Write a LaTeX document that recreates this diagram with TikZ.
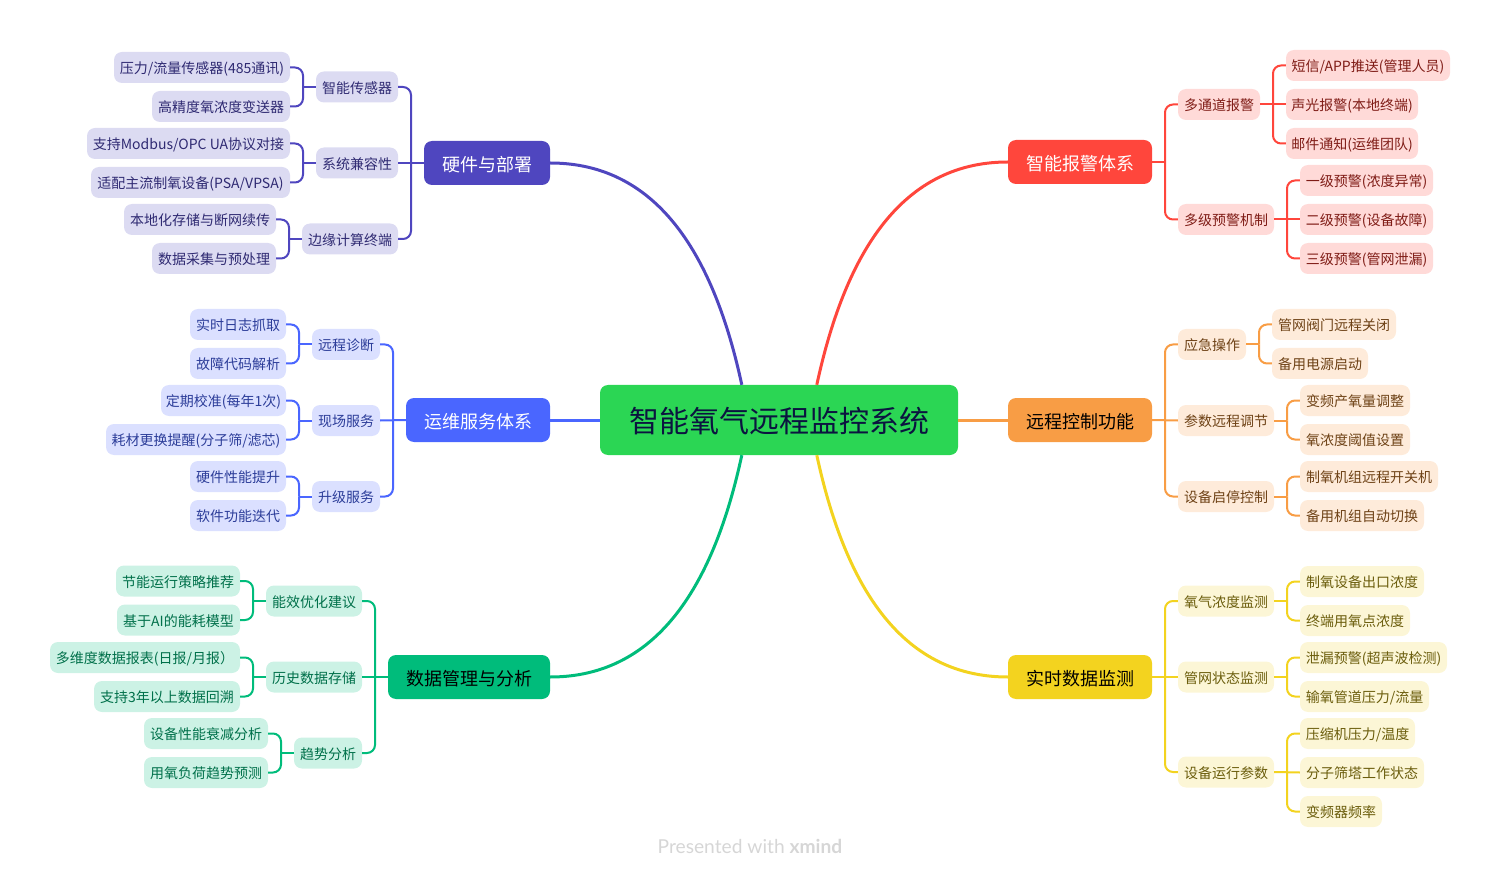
\documentclass[tikz,border=0pt]{standalone}
\usepackage{fontspec}
\setmainfont{Noto Sans CJK SC}
\newfontfamily\wmfont{Lato}
\usetikzlibrary{calc}
\definecolor{cA}{HTML}{4F46BF}\definecolor{fA}{HTML}{DCDBF2}\definecolor{tA}{HTML}{2F2A72}
\definecolor{cB}{HTML}{4A66FF}\definecolor{fB}{HTML}{DBE0FF}\definecolor{tB}{HTML}{2C3D99}
\definecolor{cC}{HTML}{00BC7B}\definecolor{fC}{HTML}{CCF2E5}\definecolor{tC}{HTML}{00704A}
\definecolor{cD}{HTML}{FF463C}\definecolor{fD}{HTML}{FFDAD8}\definecolor{tD}{HTML}{7F1C16}
\definecolor{cE}{HTML}{F89D45}\definecolor{fE}{HTML}{FEEBDA}\definecolor{tE}{HTML}{6E4216}
\definecolor{cF}{HTML}{F3D31F}\definecolor{fF}{HTML}{FCF6D6}\definecolor{tF}{HTML}{6B5D0C}
\definecolor{cRoot}{HTML}{2BD654}\definecolor{tRoot}{HTML}{0B1440}
\tikzset{
  x=1pt,y=-1pt,
  boxbase/.style={rounded corners=8pt,inner sep=0pt,align=center},
  smallbox/.style={boxbase,minimum height=31pt,font=\fontsize{14}{14}\selectfont,text height=13.3pt,text depth=0.7pt},
  bigbox/.style={boxbase,minimum height=44pt,font=\fontsize{18}{18}\selectfont,text height=17.3pt,text depth=0.7pt},
  rootbox/.style={boxbase,minimum height=70pt,font=\fontsize{30}{30}\selectfont,text height=27.9pt,text depth=2.1pt},
  conn/.style={line width=2pt},
  conn3/.style={line width=3pt},
  watermark/.style={inner sep=0pt,font=\wmfont\fontsize{19.2}{19.2}\selectfont,text=black!16},
}
% name, x0, x1, yc, style, text
\newcommand\nd[6]{\node[#5,minimum width={(#3-#2)*1pt}] (#1) at ({(#2+#3)/2},#4) {#6};}
% straight stub from the parent to the spine, then a rounded run along the spine to the child
\newcommand\elbow[3]{%
  \coordinate (lkmid) at ($(#2)!.5!(#3)$);
  \coordinate (lkknee) at (lkmid |- #2);
  \draw[conn,#1] (#2) -- (lkknee);
  \draw[conn,#1,rounded corners=8pt] (lkknee) |- (#3);}
\newcommand\straightlk[3]{\draw[conn,#1] (#2) -- (#3);}
\begin{document}
\begin{tikzpicture}
\useasboundingbox (0,0) rectangle (1500,877);
\nd{root}{600}{958}{420}{rootbox,fill=cRoot,text=tRoot}{智能氧气远程监控系统}
% hardware
\nd{a}{424}{550}{163}{bigbox,fill=cA,text=white}{硬件与部署}
\nd{a1}{316}{398}{87}{smallbox,fill=fA,text=tA}{智能传感器}
\nd{a2}{316}{398}{163}{smallbox,fill=fA,text=tA}{系统兼容性}
\nd{a3}{302}{398}{239}{smallbox,fill=fA,text=tA}{边缘计算终端}
\nd{a11}{114}{290}{67.5}{smallbox,fill=fA,text=tA}{压力/流量传感器(485通讯)}
\nd{a12}{152}{290}{106.5}{smallbox,fill=fA,text=tA}{高精度氧浓度变送器}
\nd{a21}{87}{290}{143.5}{smallbox,fill=fA,text=tA}{支持Modbus/OPC UA协议对接}
\nd{a22}{91}{290}{182.5}{smallbox,fill=fA,text=tA}{适配主流制氧设备(PSA/VPSA)}
\nd{a31}{124}{276}{219.5}{smallbox,fill=fA,text=tA}{本地化存储与断网续传}
\nd{a32}{152}{276}{258.5}{smallbox,fill=fA,text=tA}{数据采集与预处理}
% service
\nd{b}{406}{550}{420}{bigbox,fill=cB,text=white}{运维服务体系}
\nd{b1}{312}{380}{344.5}{smallbox,fill=fB,text=tB}{远程诊断}
\nd{b2}{312}{380}{420.5}{smallbox,fill=fB,text=tB}{现场服务}
\nd{b3}{312}{380}{496.5}{smallbox,fill=fB,text=tB}{升级服务}
\nd{b11}{190}{286}{324.5}{smallbox,fill=fB,text=tB}{实时日志抓取}
\nd{b12}{190}{286}{363.5}{smallbox,fill=fB,text=tB}{故障代码解析}
\nd{b21}{161}{286}{400.5}{smallbox,fill=fB,text=tB}{定期校准(每年1次)}
\nd{b22}{106}{286}{439.5}{smallbox,fill=fB,text=tB}{耗材更换提醒(分子筛/滤芯)}
\nd{b31}{190}{286}{476.5}{smallbox,fill=fB,text=tB}{硬件性能提升}
\nd{b32}{190}{286}{515.5}{smallbox,fill=fB,text=tB}{软件功能迭代}
% data
\nd{c}{388}{550}{677}{bigbox,fill=cC,text=black}{数据管理与分析}
\nd{c1}{266}{362}{601}{smallbox,fill=fC,text=tC}{能效优化建议}
\nd{c2}{266}{362}{677}{smallbox,fill=fC,text=tC}{历史数据存储}
\nd{c3}{294}{362}{753}{smallbox,fill=fC,text=tC}{趋势分析}
\nd{c11}{116}{240}{581}{smallbox,fill=fC,text=tC}{节能运行策略推荐}
\nd{c12}{117}{240}{620}{smallbox,fill=fC,text=tC}{基于AI的能耗模型}
\nd{c21}{50}{240}{657.5}{smallbox,fill=fC,text=tC}{多维度数据报表(日报/月报）}
\nd{c22}{94}{240}{696.5}{smallbox,fill=fC,text=tC}{支持3年以上数据回溯}
\nd{c31}{144}{268}{733.5}{smallbox,fill=fC,text=tC}{设备性能衰减分析}
\nd{c32}{144}{268}{772.5}{smallbox,fill=fC,text=tC}{用氧负荷趋势预测}
% alarm
\nd{d}{1008}{1152}{162}{bigbox,fill=cD,text=white}{智能报警体系}
\nd{d1}{1178}{1260}{104.5}{smallbox,fill=fD,text=tD}{多通道报警}
\nd{d2}{1178}{1274}{219.5}{smallbox,fill=fD,text=tD}{多级预警机制}
\nd{d11}{1286}{1450}{65.5}{smallbox,fill=fD,text=tD}{短信/APP推送(管理人员)}
\nd{d12}{1286}{1418}{104.5}{smallbox,fill=fD,text=tD}{声光报警(本地终端)}
\nd{d13}{1286}{1418}{143.5}{smallbox,fill=fD,text=tD}{邮件通知(运维团队)}
\nd{d21}{1300}{1433}{180.5}{smallbox,fill=fD,text=tD}{一级预警(浓度异常)}
\nd{d22}{1300}{1433}{219.5}{smallbox,fill=fD,text=tD}{二级预警(设备故障)}
\nd{d23}{1300}{1433}{258.5}{smallbox,fill=fD,text=tD}{三级预警(管网泄漏)}
% control
\nd{e}{1008}{1152}{420}{bigbox,fill=cE,text=black}{远程控制功能}
\nd{e1}{1178}{1246}{344.5}{smallbox,fill=fE,text=tE}{应急操作}
\nd{e2}{1178}{1274}{420.5}{smallbox,fill=fE,text=tE}{参数远程调节}
\nd{e3}{1178}{1274}{496.5}{smallbox,fill=fE,text=tE}{设备启停控制}
\nd{e11}{1272}{1396}{324.5}{smallbox,fill=fE,text=tE}{管网阀门远程关闭}
\nd{e12}{1272}{1368}{363.5}{smallbox,fill=fE,text=tE}{备用电源启动}
\nd{e21}{1300}{1410}{400.5}{smallbox,fill=fE,text=tE}{变频产氧量调整}
\nd{e22}{1300}{1410}{439.5}{smallbox,fill=fE,text=tE}{氧浓度阈值设置}
\nd{e31}{1300}{1438}{476.5}{smallbox,fill=fE,text=tE}{制氧机组远程开关机}
\nd{e32}{1300}{1424}{515.5}{smallbox,fill=fE,text=tE}{备用机组自动切换}
% realtime
\nd{f}{1008}{1152}{677}{bigbox,fill=cF,text=black}{实时数据监测}
\nd{f1}{1178}{1274}{601}{smallbox,fill=fF,text=tF}{氧气浓度监测}
\nd{f2}{1178}{1274}{677}{smallbox,fill=fF,text=tF}{管网状态监测}
\nd{f3}{1178}{1274}{772}{smallbox,fill=fF,text=tF}{设备运行参数}
\nd{f11}{1300}{1424}{581.5}{smallbox,fill=fF,text=tF}{制氧设备出口浓度}
\nd{f12}{1300}{1410}{620.5}{smallbox,fill=fF,text=tF}{终端用氧点浓度}
\nd{f21}{1300}{1447}{657.5}{smallbox,fill=fF,text=tF}{泄漏预警(超声波检测)}
\nd{f22}{1300}{1429}{696.5}{smallbox,fill=fF,text=tF}{输氧管道压力/流量}
\nd{f31}{1300}{1415}{733.5}{smallbox,fill=fF,text=tF}{压缩机压力/温度}
\nd{f32}{1300}{1424}{772.5}{smallbox,fill=fF,text=tF}{分子筛塔工作状态}
\nd{f33}{1300}{1382}{811.5}{smallbox,fill=fF,text=tF}{变频器频率}
\node[watermark] (wm) at (750,846) {Presented with \textbf{xmind}};
% main curves
\coordinate (rA) at ($(root.north west)+(142,0)$);
\coordinate (rD) at ($(root.north west)+(217,0)$);
\coordinate (rC) at ($(root.south west)+(142,0)$);
\coordinate (rF) at ($(root.south west)+(217,0)$);
\draw[conn3,cA] (a.east) .. controls +(110,0) and ($(rA)+(-27,-125)$) .. (rA);
\draw[conn3,cC] (c.east) .. controls +(110,0) and ($(rC)+(-27,125)$) .. (rC);
\draw[conn3,cD] (d.west) .. controls +(-110,0) and ($(rD)+(27,-125)$) .. (rD);
\draw[conn3,cF] (f.west) .. controls +(-110,0) and ($(rF)+(27,125)$) .. (rF);
\draw[conn3,cB] (b.east) -- (root.west);
\draw[conn3,cE] (root.east) -- (e.west);
% branches
\elbow{cA}{a.west}{a1.east}\straightlk{cA}{a.west}{a2.east}\elbow{cA}{a.west}{a3.east}
\elbow{cA}{a1.west}{a11.east}\elbow{cA}{a1.west}{a12.east}
\elbow{cA}{a2.west}{a21.east}\elbow{cA}{a2.west}{a22.east}
\elbow{cA}{a3.west}{a31.east}\elbow{cA}{a3.west}{a32.east}
\elbow{cB}{b.west}{b1.east}\straightlk{cB}{b.west}{b2.east}\elbow{cB}{b.west}{b3.east}
\elbow{cB}{b1.west}{b11.east}\elbow{cB}{b1.west}{b12.east}
\elbow{cB}{b2.west}{b21.east}\elbow{cB}{b2.west}{b22.east}
\elbow{cB}{b3.west}{b31.east}\elbow{cB}{b3.west}{b32.east}
\elbow{cC}{c.west}{c1.east}\straightlk{cC}{c.west}{c2.east}\elbow{cC}{c.west}{c3.east}
\elbow{cC}{c1.west}{c11.east}\elbow{cC}{c1.west}{c12.east}
\elbow{cC}{c2.west}{c21.east}\elbow{cC}{c2.west}{c22.east}
\elbow{cC}{c3.west}{c31.east}\elbow{cC}{c3.west}{c32.east}
\elbow{cD}{d.east}{d1.west}\elbow{cD}{d.east}{d2.west}
\elbow{cD}{d1.east}{d11.west}\straightlk{cD}{d1.east}{d12.west}\elbow{cD}{d1.east}{d13.west}
\elbow{cD}{d2.east}{d21.west}\straightlk{cD}{d2.east}{d22.west}\elbow{cD}{d2.east}{d23.west}
\elbow{cE}{e.east}{e1.west}\straightlk{cE}{e.east}{e2.west}\elbow{cE}{e.east}{e3.west}
\elbow{cE}{e1.east}{e11.west}\elbow{cE}{e1.east}{e12.west}
\elbow{cE}{e2.east}{e21.west}\elbow{cE}{e2.east}{e22.west}
\elbow{cE}{e3.east}{e31.west}\elbow{cE}{e3.east}{e32.west}
\elbow{cF}{f.east}{f1.west}\straightlk{cF}{f.east}{f2.west}\elbow{cF}{f.east}{f3.west}
\elbow{cF}{f1.east}{f11.west}\elbow{cF}{f1.east}{f12.west}
\elbow{cF}{f2.east}{f21.west}\elbow{cF}{f2.east}{f22.west}
\elbow{cF}{f3.east}{f31.west}\straightlk{cF}{f3.east}{f32.west}\elbow{cF}{f3.east}{f33.west}
\end{tikzpicture}
\end{document}
